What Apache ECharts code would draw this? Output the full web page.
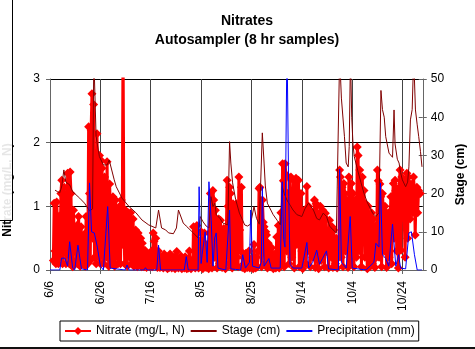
<!DOCTYPE html>
<html>
<head>
<meta charset="utf-8">
<script src="https://cdn.jsdelivr.net/npm/echarts@6/dist/echarts.min.js"></script>
<style>
  html, body { margin: 0; padding: 0; background: #fff; }
  #chart { width: 475px; height: 349px; }
</style>
</head>
<body>
<div id="chart"></div>
<script>
// Days are counted from 6/6; the autosampler takes one sample every 8 hours.
const baseDate = Date.UTC(2003, 5, 6);

// Nitrate (mg/L, N), one value per 8-hour sample, first sample on day 1.33
const nitrateStart = 1.33;
const nitrate = [
  0.15, 1.05, 0.3, 0.1, 1.07, 0.7, 0.1, 0.85,
  0.2, 1.2, 1.41, 0.1, 0.6, 1.3, 0.9, 0.1, 0.5, 1.52, 0.7, 0.1, 1.54, 1.2, 0.3, 0.05, 0.94, 0.45, 0.6, 0.15, 0.7,
  0.1, 0.84, 0.5, 0.06, 0.68, 0.42, 0.1, 0.55, 0.3, 0.06, 0.84, 0.6,
  0.1, 2.25, 1.2, 0.15, 2.2, 2.77, 0.5, 2.6, 0.2, 1.6, 0.1, 2.14, 1.0, 0.2, 1.8,
  0.1, 1.72, 1.6, 0.3, 0.1, 1.46, 1.3, 0.2, 1.7, 0.4, 0.06, 1.35, 0.94, 0.1, 0.5, 1.15, 0.2, 0.06, 1.1, 0.94, 0.3, 0.1, 0.8, 1.0,
  0.1, 1.1, 0.4, 3.6, 0.78, 0.1, 0.94, 0.5, 0.06, 0.9, 0.8, 0.2,
  0.9, 0.1, 0.63, 0.8, 0.06, 0.5, 0.63, 0.2, 0.05, 0.58, 0.42, 0.1, 0.5, 0.05, 0.42, 0.3, 0.05, 0.31, 0.2, 0.04, 0.25, 0.1, 0.21, 0.05,
  0.1, 0.3, 0.05, 0.58, 0.45, 0.1, 0.5, 0.2, 0.04, 0.3, 0.1, 0.04, 0.2, 0.06, 0.15, 0.03, 0.25, 0.05,
  0.05, 0.2, 0.02, 0.15, 0.04, 0.25, 0.08, 0.03, 0.12, 0.05, 0.2, 0.02, 0.1, 0.29, 0.15, 0.03, 0.1, 0.05, 0.22, 0.02, 0.08, 0.15, 0.03, 0.21, 0.05, 0.02, 0.12,
  0.03, 0.3, 0.1, 0.02, 0.15, 0.05, 0.68, 0.3, 0.03, 0.55, 0.7, 0.1, 0.03, 0.45, 0.2, 0.6, 0.05, 0.02, 0.35, 0.58, 0.1, 0.04, 0.4, 0.15,
  0.02, 0.58, 1.2, 0.3, 0.03, 1.25, 1.1, 0.2, 0.94, 0.45, 0.03, 0.35, 0.8, 0.1, 0.78, 0.5, 0.04, 0.3, 0.65, 0.1, 0.02,
  0.5, 1.41, 1.0, 0.1, 1.3, 1.2, 0.3, 0.03, 1.04, 0.7, 0.1, 0.9, 1.04, 0.2, 0.05,
  1.46, 0.63, 0.3, 1.3, 0.04, 0.2, 0.1, 0.02, 0.26, 0.15, 0.04, 0.2, 0.3, 0.03, 0.1, 0.05, 0.18, 0.02, 0.4, 0.1, 0.03, 0.2, 0.05, 0.3,
  1.28, 1.3, 0.4, 0.05, 1.1, 0.75, 0.68, 0.1, 0.6, 0.55, 0.03, 0.42, 0.3, 0.2, 0.05, 0.35, 0.15, 0.02, 0.25, 0.1, 0.03,
  0.52, 0.1, 0.7, 0.03, 0.4, 0.9, 0.1, 1.67, 1.4, 0.05, 1.67, 1.5, 0.3, 1.2, 0.4,
  0.1, 1.44, 1.46, 0.2, 0.8, 1.41, 0.03, 1.0, 1.44, 0.4, 0.6, 1.41, 0.05, 0.9, 1.2, 0.3, 0.02, 0.8, 0.94, 0.4, 0.1,
  1.31, 0.3, 1.0, 0.94, 0.05, 0.7, 0.89, 0.2, 0.6, 1.1, 0.04, 1.04, 0.9, 0.3, 0.02, 0.8, 1.0, 0.15, 0.6, 0.94, 0.25, 0.05, 0.89, 0.8, 0.3, 0.6, 0.03, 0.78, 0.5, 0.2, 0.68, 0.04, 0.63, 0.3, 0.1, 0.5, 0.03, 0.35, 0.2,
  1.57, 1.46, 0.2, 1.3, 0.05, 1.36, 1.2, 0.3, 1.1, 0.63, 0.04, 1.46, 1.2, 0.1, 1.36, 0.26, 1.2, 0.05, 0.6, 1.1, 0.2,
  1.93, 1.8, 0.3, 1.57, 1.15, 0.05, 1.46, 0.68, 1.25, 0.2, 1.04, 0.4, 0.02, 1.0, 0.8, 0.05, 0.26, 0.9, 0.1, 0.8, 0.3, 0.04, 0.7, 0.2,
  1.57, 1.4, 0.2, 1.35, 1.15, 0.05, 1.2, 0.94, 0.3, 1.0, 0.8, 0.04, 0.26, 0.9, 0.2, 0.7, 1.15, 0.1,
  1.15, 1.36, 0.5, 1.41, 1.25, 0.3, 1.2, 0.03, 1.3, 1.57, 0.31, 1.46, 0.9, 1.35, 0.8, 0.2, 1.41, 1.52, 0.5, 1.46, 1.3,
  0.8, 1.35, 1.2, 0.9, 1.46, 1.25, 0.55, 1.2, 1.3, 0.9, 1.25, 1.2, 1.2
];

// Stage (cm): [day, value]
const stage = [
  [2.0, 20.9], [3.0, 20.5], [3.9, 20.2], [4.7, 22], [5.5, 26.2], [6.3, 23], [7.8, 22.3], [9.0, 20.5],
  [11.8, 18.8], [13.7, 17.5], [15.7, 15.5], [16.9, 16], [17.4, 56], [18.3, 35], [19.6, 29.7], [21.2, 27.5],
  [22.7, 27.5], [23.5, 28.8], [25.5, 23.6], [26.3, 21.8], [28.6, 18.8], [31.4, 16.6], [34.1, 15], [36.5, 13.1],
  [39.2, 11.8], [42.0, 11], [43.1, 15.7], [44.3, 11], [45.9, 10.5], [47.1, 9.7], [49.0, 9.5], [50.2, 11],
  [51.0, 15.7], [52.9, 12.3], [54.1, 11.5], [56.9, 9.7], [58.8, 8.4], [59.6, 14], [60.8, 12.6], [62.0, 11.5],
  [63.1, 11], [63.9, 19.2], [64.7, 16.6], [65.5, 17.5], [66.0, 14.5], [67.5, 13.5], [68.6, 12.3], [70.6, 11.8],
  [71.3, 33.6], [71.8, 28], [72.5, 22.8], [73.7, 18.5], [75.2, 14.9], [76.5, 13], [77.3, 11.8], [78.4, 11.5],
  [79.6, 12], [81.0, 16.6], [82.0, 13.5], [83.1, 12], [84.3, 35.9], [85.0, 28], [85.5, 22], [86.3, 17.5],
  [88.6, 14.5], [90.2, 13], [91.5, 11.8], [92.2, 21.8], [93.0, 20], [94.1, 18.3], [96.5, 15.7], [98.0, 14.5],
  [100.0, 14], [101.2, 16], [102.6, 17.5], [104.6, 15.7], [105.9, 13.5], [107.0, 13.1], [108.5, 14.9], [109.8, 14],
  [111.0, 11.5], [112.4, 10.5], [113.7, 9.7], [115.0, 56], [115.7, 45], [116.9, 35], [117.6, 28], [118.4, 27],
  [118.8, 32.3], [119.3, 56], [119.8, 40], [120.3, 33], [120.8, 29.7], [122.2, 26], [123.5, 22.8], [124.7, 20],
  [126.1, 17.5], [128.1, 14.9], [129.4, 14], [130.6, 15], [131.4, 47], [132.0, 42], [132.7, 40], [133.3, 34.9],
  [134.6, 30.6], [136.0, 29.5], [136.6, 41.9], [137.0, 33], [137.9, 29], [138.6, 28], [139.2, 25.5], [139.9, 23.6],
  [141.2, 21.8], [142.0, 23], [142.5, 27], [143.1, 39.3], [143.8, 42], [144.4, 56], [145.1, 41.9], [145.8, 38],
  [146.4, 34.9], [147.1, 31], [147.7, 27]
];

// Precipitation (mm): [day, value]
const precipitation = [
  [0, 0], [3.9, 0], [4.6, 3.1], [5.9, 3.1], [7.0, 1], [7.8, 7.4], [9.0, 0.5], [9.8, 0], [11.1, 6.5],
  [12.5, 0.3], [14.9, 0], [15.7, 22.8], [16.5, 10], [17.6, 9.7], [18.8, 6], [20.0, 1], [21.2, 0], [22.9, 16.6],
  [23.9, 0.5], [29.8, 0], [30.6, 1.3], [31.4, 0], [37.3, 0], [37.9, 0.6], [38.5, 0], [42.4, 0], [43.1, 6.5],
  [43.9, 0], [53.3, 0], [54.1, 3.5], [54.9, 0], [58.8, 0], [59.2, 21.8], [60.0, 1.7], [60.4, 4], [61.6, 10],
  [62.4, 2], [63.1, 23.1], [64.0, 13], [64.7, 1], [65.4, 8.4], [66.0, 9.7], [66.7, 0.5], [69.8, 0],
  [71.3, 15.7], [71.8, 0.3], [75.7, 0], [76.5, 4], [77.6, 0.5], [79.2, 2], [79.7, 15.7], [80.4, 1],
  [83.1, 0.5], [83.9, 2], [84.3, 21.8], [85.0, 1], [86.9, 3], [87.8, 0.5], [91.4, 0.5], [92.2, 23.1],
  [92.8, 8], [93.3, 6], [94.1, 60], [94.8, 19.2], [95.3, 1.5], [96.5, 0.5], [100.0, 0.5], [102.0, 7.2],
  [102.7, 0.5], [104.3, 2], [105.9, 5.2], [107.0, 1.5], [108.2, 3], [109.8, 5], [110.6, 0.3], [114.5, 0],
  [115.0, 26.4], [115.7, 2], [117.6, 0.5], [119.2, 14], [120.0, 0.5], [125.5, 0], [128.6, 2], [129.4, 7],
  [130.6, 6], [131.2, 22.8], [132.0, 4], [133.3, 3], [134.5, 1], [136.0, 12], [137.3, 1], [138.4, 4],
  [139.2, 0.5], [141.2, 0.3], [142.5, 9.7], [143.5, 10], [144.7, 4], [145.8, 0], [147.7, 0]
];

const font = '"Liberation Sans", Arial, sans-serif';

function dayLabel(d) {
  const t = new Date(baseDate + d * 86400000);
  return (t.getUTCMonth() + 1) + '/' + t.getUTCDate();
}

const nitrateData = nitrate.map((v, i) => [nitrateStart + i / 3, v]);

const chart = echarts.init(document.getElementById('chart'), null, { renderer: 'canvas' });

chart.setOption({
  animation: false,
  backgroundColor: '#fff',
  textStyle: { fontFamily: font },
  title: {
    text: 'Nitrates\nAutosampler (8 hr samples)',
    left: 242,
    top: 7,
    textAlign: 'center',
    textStyle: { fontFamily: font, fontSize: 14, fontWeight: 'bold', color: '#000', lineHeight: 19 }
  },
  legend: {
    left: 60,
    top: 321,
    padding: [4, 4],
    itemGap: 5,
    itemWidth: 26,
    itemHeight: 10,
    borderColor: '#000',
    borderWidth: 1,
    textStyle: { fontFamily: font, fontSize: 12, color: '#000' },
    data: [
      { name: 'Nitrate (mg/L, N)' },
      // plain line keys for the two unmarked series
      { name: 'Stage (cm)', itemStyle: { opacity: 0 } },
      { name: 'Precipitation (mm)', itemStyle: { opacity: 0 } }
    ]
  },
  grid: { left: 50, top: 79, width: 377, height: 191, containLabel: false },
  xAxis: {
    type: 'value',
    min: 0,
    max: 148,
    interval: 20,
    axisLine: { lineStyle: { color: '#666', width: 1 } },
    axisTick: { length: 4, lineStyle: { color: '#666' } },
    axisLabel: {
      rotate: 90,
      margin: 11,
      fontFamily: font,
      fontSize: 12,
      color: '#000',
      showMaxLabel: false,
      formatter: v => dayLabel(v)
    },
    splitLine: { show: true, lineStyle: { color: '#444', width: 1 } }
  },
  yAxis: [
    {
      type: 'value',
      min: 0,
      max: 3,
      interval: 1,
      axisLine: { show: true, lineStyle: { color: '#666', width: 1 } },
      axisTick: { show: true, length: 4, lineStyle: { color: '#666' } },
      axisLabel: { margin: 10, fontFamily: font, fontSize: 12, color: '#000' },
      splitLine: { show: true, lineStyle: { color: '#000', width: 1 } }
    },
    {
      type: 'value',
      position: 'right',
      min: 0,
      max: 50,
      interval: 10,
      name: 'Stage (cm)',
      nameLocation: 'middle',
      nameGap: 26,
      nameTextStyle: { fontFamily: font, fontSize: 12, fontWeight: 'bold', color: '#000' },
      axisLine: { show: true, lineStyle: { color: '#666', width: 1 } },
      axisTick: { show: true, length: 4, lineStyle: { color: '#666' } },
      axisLabel: { margin: 8, fontFamily: font, fontSize: 12, color: '#000' },
      splitLine: { show: false }
    },
    {
      // inner half of the cross ticks on the stage axis
      type: 'value',
      position: 'right',
      min: 0,
      max: 50,
      interval: 10,
      axisLine: { show: false },
      axisTick: { show: true, inside: true, length: 4, lineStyle: { color: '#666' } },
      axisLabel: { show: false },
      splitLine: { show: false }
    }
  ],
  series: [
    {
      name: 'Nitrate (mg/L, N)',
      type: 'line',
      yAxisIndex: 0,
      data: nitrateData,
      symbol: 'diamond',
      symbolSize: 9,
      showAllSymbol: true,
      lineStyle: { color: '#ff0000', width: 3 },
      itemStyle: { color: '#ff0000', borderWidth: 0 },
      z: 2
    },
    {
      name: 'Stage (cm)',
      type: 'line',
      yAxisIndex: 1,
      data: stage,
      symbol: 'none',
      lineStyle: { color: '#800000', width: 1 },
      itemStyle: { color: '#800000' },
      z: 3
    },
    {
      name: 'Precipitation (mm)',
      type: 'line',
      yAxisIndex: 1,
      data: precipitation,
      symbol: 'none',
      lineStyle: { color: '#0000ff', width: 1 },
      itemStyle: { color: '#0000ff' },
      z: 4
    }
  ],
  graphic: [
    {
      type: 'text',
      x: 8,
      y: 190,
      rotation: Math.PI / 2,
      style: {
        text: 'Nitrate (mg/L, N)',
        fontFamily: font,
        fontSize: 12,
        fontWeight: 'bold',
        fill: '#000',
        align: 'center',
        verticalAlign: 'middle'
      },
      z: 10
    },
    {
      type: 'rect',
      shape: { x: -2, y: -2, width: 14.5, height: 222.5 },
      style: { fill: 'rgba(255,255,255,0.9)', stroke: '#000', lineWidth: 1 },
      z: 20
    },
    {
      type: 'rect',
      shape: { x: 0, y: 347, width: 475, height: 2 },
      style: { fill: '#111' },
      z: 20
    }
  ]
});
</script>
</body>
</html>
